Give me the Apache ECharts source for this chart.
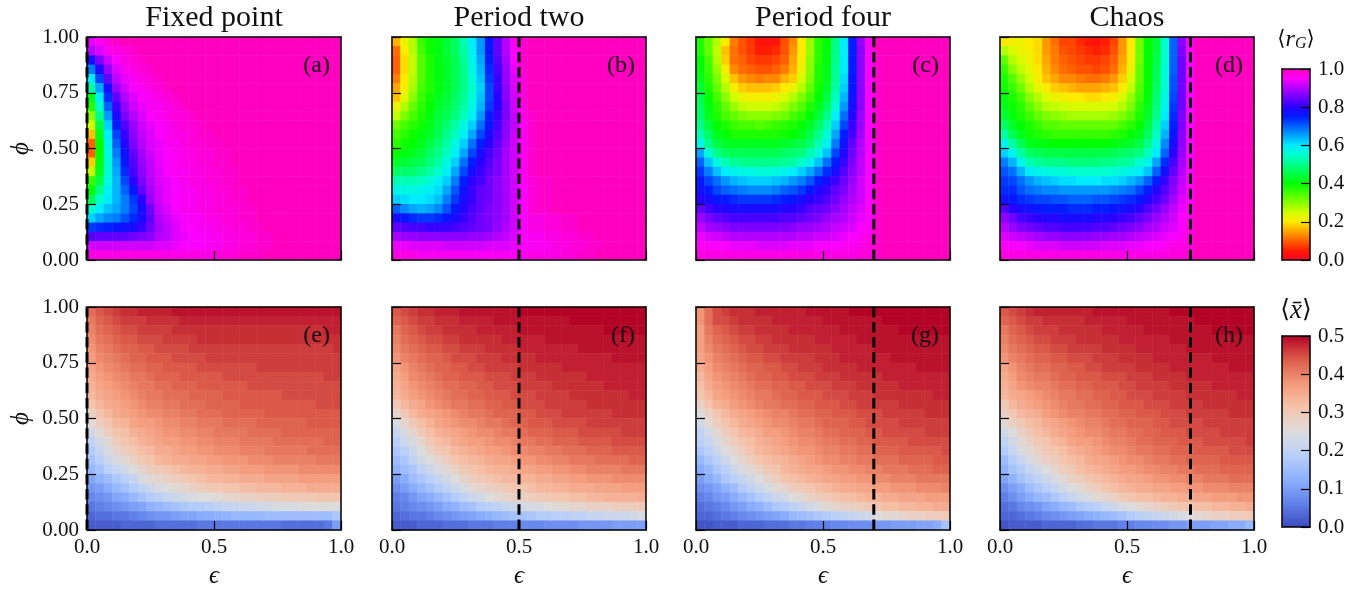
<!DOCTYPE html>
<html><head><meta charset="utf-8">
<style>html,body{margin:0;padding:0;background:#fff}#c{width:1362px;height:591px}</style>
<script src="https://cdn.jsdelivr.net/npm/echarts@6/dist/echarts.min.js"></script>
</head><body><div id="c"></div>
<script>
// All matrices: rows run from phi=1 (top) to phi=0 (bottom), columns from eps=0 to eps=1.
// Top row values are <r_G> x 100, bottom row values are <x> x 100.
const panelA=[
[94,96,98,99,100,100,100,100,100,100,100,100,100,100,100,100,100,100,100,100,100,100,100,100,100,100,100,100,100,100],
[90,93,96,97,98,99,100,100,100,100,100,100,100,100,100,100,100,100,100,100,100,100,100,100,100,100,100,100,100,100],
[78,86,92,95,97,98,99,100,100,100,100,100,100,100,100,100,100,100,100,100,100,100,100,100,100,100,100,100,100,100],
[68,79,88,93,96,97,98,99,100,100,100,100,100,100,100,100,100,100,100,100,100,100,100,100,100,100,100,100,100,100],
[60,72,84,91,94,96,97,98,99,100,100,100,100,100,100,100,100,100,100,100,100,100,100,100,100,100,100,100,100,100],
[52,65,78,88,92,95,96,97,98,99,100,100,100,100,100,100,100,100,100,100,100,100,100,100,100,100,100,100,100,100],
[42,60,74,84,90,93,95,96,97,98,99,100,100,100,100,100,100,100,100,100,100,100,100,100,100,100,100,100,100,100],
[37,55,70,81,88,92,94,96,96,97,98,99,100,100,100,100,100,100,100,100,100,100,100,100,100,100,100,100,100,100],
[30,50,66,78,86,90,93,95,96,97,98,98,99,100,100,100,100,100,100,100,100,100,100,100,100,100,100,100,100,100],
[25,45,62,75,83,88,92,94,95,96,97,98,98,99,100,100,100,100,100,100,100,100,100,100,100,100,100,100,100,100],
[17,42,60,72,81,87,91,93,95,96,97,97,98,99,99,100,100,100,100,100,100,100,100,100,100,100,100,100,100,100],
[10,40,58,70,79,86,90,93,94,96,96,97,98,98,99,99,100,100,100,100,100,100,100,100,100,100,100,100,100,100],
[10,40,57,68,77,84,89,92,94,95,96,97,97,98,98,99,99,100,100,100,100,100,100,100,100,100,100,100,100,100],
[18,41,56,66,76,83,88,91,94,95,96,97,97,98,98,99,99,100,100,100,100,100,100,100,100,100,100,100,100,100],
[26,42,56,65,74,82,87,91,93,95,96,96,97,97,98,98,99,99,100,100,100,100,100,100,100,100,100,100,100,100],
[36,45,57,64,72,80,86,90,93,94,95,96,97,97,98,98,99,99,100,100,100,100,100,100,100,100,100,100,100,100],
[40,50,59,64,70,76,84,89,92,94,95,96,96,97,97,98,98,99,99,100,100,100,100,100,100,100,100,100,100,100],
[46,55,60,64,68,73,80,88,92,94,95,96,96,97,97,98,98,99,99,100,100,100,100,100,100,100,100,100,100,100],
[55,60,63,65,68,72,78,85,91,93,95,96,96,97,97,98,98,98,99,99,100,100,100,100,100,100,100,100,100,100],
[62,65,67,68,71,74,78,84,90,92,94,95,96,96,97,97,98,98,99,99,100,100,100,100,100,100,100,100,100,100],
[73,74,75,76,77,78,81,85,89,91,93,95,95,96,96,97,97,98,98,99,99,100,100,100,100,100,100,100,100,100],
[83,84,84,84,84,85,86,87,90,91,93,94,95,95,96,96,97,97,98,98,99,99,100,100,100,100,100,100,100,100],
[92,92,92,92,92,92,92,92,93,93,94,95,95,95,96,96,97,97,98,98,99,99,100,100,100,100,100,100,100,100],
[97,97,97,97,97,97,97,97,97,97,97,97,97,97,97,98,98,98,99,99,99,100,100,100,100,100,100,100,100,100]];
const panelB=[
[16,22,27,36,39,41,44,47,53,60,66,76,84,90,96,99,100,100,100,100,100,100,100,100,100,100,100,100,100,100],
[11,20,27,35,39,41,44,47,52,59,66,76,84,90,95,99,100,100,100,100,100,100,100,100,100,100,100,100,100,100],
[10,19,26,34,38,41,43,46,51,58,65,75,83,89,95,99,100,100,100,100,100,100,100,100,100,100,100,100,100,100],
[10,19,26,34,38,41,43,46,50,57,64,74,82,88,94,99,100,100,100,100,100,100,100,100,100,100,100,100,100,100],
[12,20,27,34,38,41,43,46,50,56,63,73,81,88,93,98,100,100,100,100,100,100,100,100,100,100,100,100,100,100],
[15,21,28,35,38,41,43,46,50,55,62,72,81,87,93,98,100,100,100,100,100,100,100,100,100,100,100,100,100,100],
[17,23,30,36,39,42,44,47,51,56,63,72,80,87,92,98,100,100,100,100,100,100,100,100,100,100,100,100,100,100],
[22,27,33,37,40,43,45,48,52,57,64,73,80,86,92,97,100,100,100,100,100,100,100,100,100,100,100,100,100,100],
[26,31,35,38,41,44,46,49,54,59,66,75,81,86,91,97,99,100,100,100,100,100,100,100,100,100,100,100,100,100],
[32,35,37,39,42,45,48,52,57,62,69,76,82,87,91,96,99,100,100,100,100,100,100,100,100,100,100,100,100,100],
[35,37,39,41,43,46,50,54,59,65,72,78,83,87,92,96,99,100,100,100,100,100,100,100,100,100,100,100,100,100],
[37,39,40,42,45,48,52,57,62,69,75,80,84,88,92,96,99,100,100,100,100,100,100,100,100,100,100,100,100,100],
[40,41,42,44,47,50,54,59,65,72,78,82,85,89,92,96,99,100,100,100,100,100,100,100,100,100,100,100,100,100],
[43,44,45,46,49,52,57,62,69,75,80,83,86,89,92,96,99,100,100,100,100,100,100,100,100,100,100,100,100,100],
[47,48,48,50,52,55,59,65,72,78,81,84,86,89,92,96,99,100,100,100,100,100,100,100,100,100,100,100,100,100],
[53,53,53,54,56,59,62,68,75,80,82,85,87,89,92,96,98,99,99,100,100,100,100,100,100,100,100,100,100,100],
[58,57,57,58,59,61,65,71,77,81,84,85,87,89,92,95,98,99,99,100,100,100,100,100,100,100,100,100,100,100],
[62,61,60,60,61,63,68,73,78,81,84,85,87,89,92,95,98,99,99,100,100,100,100,100,100,100,100,100,100,100],
[70,67,65,64,65,67,71,76,79,82,84,86,87,89,92,95,98,99,99,100,100,100,100,100,100,100,100,100,100,100],
[78,76,74,73,73,74,76,78,81,83,85,86,87,89,92,95,97,97,98,98,99,99,100,100,100,100,100,100,100,100],
[84,83,82,82,81,81,81,82,83,84,85,86,88,90,92,95,97,97,98,98,99,99,100,100,100,100,100,100,100,100],
[89,88,88,87,87,87,87,87,87,88,88,89,90,91,93,95,96,96,97,97,98,98,99,99,100,100,100,100,100,100],
[94,94,93,93,93,93,92,92,92,92,92,93,93,93,94,95,96,96,96,97,97,98,98,99,99,100,100,100,100,100],
[97,97,97,96,96,96,96,96,96,96,96,96,96,96,96,96,97,97,97,97,98,98,99,99,100,100,100,100,100,100]];
const panelC=[
[38,33,27,20,12,9,7,4,3,4,9,13,20,29,37,40,50,60,75,88,96,100,100,100,100,100,100,100,100,100],
[38,33,26,17,11,9,7,5,5,6,9,14,20,29,37,41,50,60,75,87,96,100,100,100,100,100,100,100,100,100],
[40,35,27,18,11,10,8,7,7,8,10,15,21,30,37,41,50,60,75,87,95,99,100,100,100,100,100,100,100,100],
[41,36,29,21,13,11,10,9,9,10,12,16,22,30,38,42,51,60,75,87,95,99,100,100,100,100,100,100,100,100],
[42,37,31,24,17,14,13,12,13,13,16,18,24,31,38,42,51,61,76,87,95,99,100,100,100,100,100,100,100,100],
[44,38,33,27,21,18,17,17,17,18,20,22,27,33,39,43,52,62,76,87,95,99,100,100,100,100,100,100,100,100],
[46,40,35,30,25,22,21,21,21,22,24,27,31,35,40,45,54,64,77,87,95,99,100,100,100,100,100,100,100,100],
[47,41,37,33,29,26,25,25,25,26,28,31,34,38,42,47,56,66,78,87,95,99,100,100,100,100,100,100,100,100],
[48,42,38,35,33,31,30,30,30,31,32,35,37,40,44,50,59,69,79,88,95,99,100,100,100,100,100,100,100,100],
[50,44,40,38,36,35,35,34,35,36,37,38,40,43,47,53,62,72,81,88,95,99,100,100,100,100,100,100,100,100],
[53,47,42,40,38,38,38,38,38,38,39,40,42,45,50,56,65,75,82,89,95,99,100,100,100,100,100,100,100,100],
[58,50,45,43,42,42,42,42,42,42,43,44,45,48,53,59,68,77,84,90,95,99,100,100,100,100,100,100,100,100],
[65,56,50,47,46,46,46,46,46,46,47,48,49,53,57,63,72,79,85,90,95,99,100,100,100,100,100,100,100,100],
[70,63,57,53,51,50,50,50,50,50,51,52,55,58,63,69,75,81,86,91,95,99,100,100,100,100,100,100,100,100],
[73,68,63,60,58,57,57,56,56,57,58,60,62,65,69,74,78,83,87,91,95,99,100,100,100,100,100,100,100,100],
[76,72,69,66,64,63,62,62,62,63,64,66,68,71,75,78,81,85,88,92,95,99,100,100,100,100,100,100,100,100],
[77,75,72,70,69,68,67,67,67,68,70,71,73,76,79,81,84,86,89,92,95,99,100,100,100,100,100,100,100,100],
[80,78,76,75,74,73,73,73,73,74,75,76,78,80,81,83,85,88,90,92,95,99,100,100,100,100,100,100,100,100],
[84,82,80,79,78,78,78,78,78,78,79,80,81,83,84,85,87,89,91,93,96,99,100,100,100,100,100,100,100,100],
[88,86,84,83,82,82,82,82,82,82,83,83,84,85,86,88,89,90,92,94,96,99,100,100,100,100,100,100,100,100],
[91,89,88,87,86,86,86,86,86,86,86,87,88,88,89,90,91,92,93,95,96,99,100,100,100,100,100,100,100,100],
[94,93,92,91,90,90,90,90,90,90,90,90,91,91,92,92,93,94,95,96,97,99,100,100,100,100,100,100,100,100],
[96,96,95,95,94,94,94,93,93,93,93,94,94,94,95,95,95,96,96,97,98,99,100,100,100,100,100,100,100,100],
[97,97,97,97,97,97,97,97,97,97,97,97,97,97,97,97,97,97,97,98,98,99,100,100,100,100,100,100,100,100]];
const panelD=[
[20,21,22,20,19,14,11,8,8,6,4,3,5,8,14,20,32,40,44,55,70,87,96,100,100,100,100,100,100,100],
[27,24,22,21,19,14,12,9,8,7,6,5,6,9,14,20,32,40,44,55,70,86,96,100,100,100,100,100,100,100],
[33,27,24,22,19,15,12,10,9,8,7,7,8,10,15,21,32,40,45,55,70,85,95,100,100,100,100,100,100,100],
[36,30,26,23,20,16,13,11,10,9,9,8,9,11,16,22,33,40,46,56,70,85,95,100,100,100,100,100,100,100],
[38,34,29,25,21,17,15,13,13,12,11,11,12,14,18,24,33,40,46,56,71,85,95,100,100,100,100,100,100,100],
[39,36,32,27,23,20,18,17,16,15,15,15,16,17,20,26,34,40,47,56,71,85,95,100,100,100,100,100,100,100],
[41,38,35,30,27,24,22,21,20,20,19,19,20,21,24,29,35,41,48,57,72,85,95,100,100,100,100,100,100,100],
[42,39,37,33,30,27,26,25,24,24,24,24,24,25,27,31,37,42,49,58,73,85,95,100,100,100,100,100,100,100],
[44,41,38,36,33,31,30,29,28,28,28,28,28,29,31,34,38,43,50,60,74,86,95,100,100,100,100,100,100,100],
[47,43,40,38,36,34,34,33,33,33,33,33,33,33,35,37,40,45,52,62,75,86,95,100,100,100,100,100,100,100],
[52,46,42,39,38,37,36,36,36,36,36,36,36,37,38,40,42,47,54,64,76,87,95,100,100,100,100,100,100,100],
[58,52,46,42,41,41,40,40,40,40,40,40,40,41,42,43,45,50,57,67,78,87,95,100,100,100,100,100,100,100],
[62,58,52,47,46,45,45,45,45,45,45,45,45,46,47,48,49,54,60,70,80,88,95,100,100,100,100,100,100,100],
[68,64,58,53,51,50,50,50,49,49,49,49,50,50,51,52,55,58,65,74,82,89,95,100,100,100,100,100,100,100],
[71,69,64,60,58,57,56,56,55,55,55,55,55,56,57,58,60,63,70,78,84,90,96,100,100,100,100,100,100,100],
[73,72,69,66,64,63,62,61,61,60,60,60,61,61,62,64,66,70,75,81,86,91,96,100,100,100,100,100,100,100],
[74,74,71,69,68,67,67,66,66,66,66,66,66,67,68,69,72,75,79,83,87,92,96,100,100,100,100,100,100,100],
[77,76,74,73,72,72,71,71,70,70,70,71,71,72,73,74,76,79,82,85,89,93,96,100,100,100,100,100,100,100],
[83,80,78,77,76,75,75,75,74,74,74,75,75,76,77,78,80,83,85,88,91,94,97,100,100,100,100,100,100,100],
[87,85,82,81,80,79,79,78,78,78,78,79,79,80,81,82,84,86,88,90,92,95,97,100,100,100,100,100,100,100],
[90,88,86,85,84,83,83,82,82,82,82,83,83,84,85,86,87,89,90,92,93,95,98,100,100,100,100,100,100,100],
[93,92,91,90,89,88,88,87,87,87,87,88,88,89,89,90,91,92,93,94,95,96,98,100,100,100,100,100,100,100],
[96,95,95,94,93,93,93,92,92,92,92,92,93,93,93,94,94,95,95,96,97,97,98,100,100,100,100,100,100,100],
[97,97,97,97,97,97,97,97,97,97,97,97,97,97,97,97,97,97,97,97,98,98,99,100,100,100,100,100,100,100]];
const panelE=[
[42,44,45,46,47,47,48,48,48,48,49,49,49,49,49,49,49,49,49,49,49,49,49,49,49,49,49,49,49,49],
[41,43,44,45,46,46,46,47,47,47,47,48,48,48,48,48,48,48,48,48,48,48,48,48,48,48,48,48,48,48],
[40,42,43,44,45,45,46,46,46,46,47,47,47,47,47,47,47,47,47,47,47,47,47,47,47,47,47,47,48,48],
[39,41,42,43,44,44,45,45,45,46,46,46,46,47,47,47,47,47,47,47,47,47,47,47,47,47,47,47,47,47],
[38,40,41,42,43,43,44,44,45,45,45,45,46,46,46,46,46,46,46,46,46,46,46,46,46,46,46,46,46,47],
[37,39,40,41,42,43,43,44,44,44,45,45,45,45,46,46,46,46,46,46,46,46,46,46,46,46,46,46,46,46],
[36,38,39,40,41,42,42,43,43,44,44,44,44,45,45,45,45,45,45,45,46,46,46,46,46,46,46,46,46,46],
[35,37,38,39,40,41,41,42,43,43,43,44,44,44,44,44,45,45,45,45,45,45,45,45,45,45,45,45,46,46],
[34,36,37,38,39,40,41,41,42,42,43,43,43,44,44,44,44,44,44,45,45,45,45,45,45,45,45,45,45,45],
[33,35,36,37,38,39,40,41,41,42,42,42,43,43,43,43,44,44,44,44,44,44,44,45,45,45,45,45,45,45],
[31,33,35,36,37,38,39,40,40,41,41,42,42,42,43,43,43,43,44,44,44,44,44,44,44,44,44,45,45,45],
[28,31,33,35,36,37,38,39,39,40,40,41,41,42,42,42,43,43,43,43,43,44,44,44,44,44,44,44,44,44],
[26,29,31,33,34,36,37,37,38,39,39,40,40,41,41,41,42,42,42,42,43,43,43,43,43,43,44,44,44,44],
[23,26,29,31,32,34,35,36,37,38,38,39,39,40,40,41,41,41,41,42,42,42,42,43,43,43,43,43,43,43],
[20,23,26,29,31,32,34,35,36,37,37,38,38,39,39,40,40,40,41,41,41,41,42,42,42,42,42,42,43,43],
[18,21,24,27,29,30,32,33,35,35,36,37,37,38,38,39,39,39,40,40,40,41,41,41,41,41,42,42,42,42],
[16,19,22,24,26,28,30,31,33,34,35,35,36,36,37,37,38,38,38,39,39,39,40,40,40,40,40,41,41,41],
[14,16,19,21,23,25,27,29,30,31,32,33,34,34,35,35,36,36,37,37,37,38,38,38,38,39,39,39,39,39],
[11,13,15,17,19,21,24,26,27,28,29,30,31,32,33,33,34,34,35,35,35,36,36,36,36,37,37,37,37,37],
[9,10,12,14,16,18,20,22,24,25,26,27,28,29,30,30,31,31,32,32,33,33,33,34,34,34,35,35,35,35],
[7,8,9,11,12,14,16,18,19,21,22,23,24,25,25,26,27,27,28,28,29,29,29,30,30,30,30,31,31,31],
[5,6,7,8,9,10,11,13,14,15,16,17,18,18,19,20,21,21,22,22,23,23,24,24,24,25,25,25,25,25],
[3,4,4,5,5,6,7,8,9,9,10,11,11,12,12,13,13,14,14,14,14,15,15,15,15,15,15,15,15,17],
[2,2,2,2,3,3,3,3,4,4,4,4,4,5,5,5,5,5,5,5,5,5,5,4,4,4,4,4,5,10]];
const panelF=[
[44,45,46,47,47,48,48,48,49,49,49,49,49,49,49,50,50,50,50,50,50,50,50,50,50,50,50,50,50,50],
[43,44,45,46,46,47,47,47,48,48,48,48,49,49,49,49,49,49,49,49,49,50,50,50,50,50,50,50,50,50],
[41,43,44,45,46,46,47,47,47,47,48,48,48,48,48,49,49,49,49,49,49,49,49,49,49,50,50,50,50,50],
[40,42,43,44,45,45,46,46,47,47,47,47,47,48,48,48,48,48,49,49,49,49,49,49,49,49,49,49,49,49],
[39,41,42,43,44,44,45,45,46,46,46,47,47,47,47,48,48,48,48,48,48,48,49,49,49,49,49,49,49,49],
[38,40,41,42,43,43,44,45,45,45,46,46,46,47,47,47,47,48,48,48,48,48,48,48,48,48,49,49,49,49],
[36,38,40,41,42,43,43,44,44,45,45,46,46,46,46,47,47,47,47,47,48,48,48,48,48,48,48,48,48,48],
[35,37,39,40,41,42,43,43,44,44,44,45,45,45,46,46,46,47,47,47,47,47,47,48,48,48,48,48,48,48],
[34,36,38,39,40,41,42,42,43,43,44,44,45,45,45,46,46,46,46,47,47,47,47,47,47,48,48,48,48,48],
[33,35,37,38,39,40,41,42,42,43,43,44,44,44,45,45,45,46,46,46,46,47,47,47,47,47,47,47,48,48],
[30,33,35,36,38,39,40,41,41,42,42,43,43,44,44,45,45,45,46,46,46,46,46,47,47,47,47,47,47,47],
[27,30,33,35,36,37,38,39,40,41,41,42,43,43,43,44,44,45,45,45,46,46,46,46,46,46,47,47,47,47],
[24,27,30,32,34,36,37,38,39,39,40,41,41,42,43,43,44,44,44,45,45,45,45,46,46,46,46,46,46,46],
[21,24,27,30,32,34,35,36,37,38,39,39,40,41,41,42,43,43,43,44,44,44,45,45,45,45,45,46,46,46],
[19,22,24,27,30,32,33,35,36,37,37,38,39,39,40,41,41,42,42,43,43,43,44,44,44,44,45,45,45,45],
[17,19,22,25,28,30,31,33,34,35,36,37,37,38,39,39,40,40,41,41,42,42,42,43,43,43,44,44,44,44],
[15,17,20,23,25,27,29,31,32,33,34,35,36,36,37,38,38,39,39,40,40,41,41,41,42,42,42,42,43,43],
[13,15,17,20,22,24,26,28,30,31,32,33,34,34,35,36,36,37,37,38,38,39,39,40,40,40,40,41,41,41],
[10,12,15,17,19,21,23,25,27,29,30,31,32,33,33,34,34,35,35,36,36,37,37,38,38,38,39,39,39,39],
[8,10,12,14,16,18,20,22,24,26,27,28,29,30,31,31,32,33,33,34,34,35,35,35,36,36,36,37,37,37],
[6,7,9,11,12,14,16,18,20,22,23,25,26,27,28,28,29,30,30,31,31,32,32,33,33,34,34,34,34,35],
[5,6,7,8,9,10,12,13,15,16,18,19,20,21,22,23,24,24,25,26,26,27,27,28,28,28,29,29,29,30],
[3,4,5,5,6,7,8,9,10,11,12,13,14,15,16,16,17,18,18,19,19,20,20,21,21,22,22,22,23,24],
[2,2,2,3,3,3,4,4,4,5,5,5,6,6,6,7,7,7,8,8,8,8,9,9,9,9,10,10,10,10]];
const panelG=[
[38,42,45,46,47,47,47,48,48,48,48,48,48,49,49,49,49,49,50,50,50,50,50,50,50,50,50,50,50,50],
[38,42,45,45,46,47,47,47,47,48,48,48,48,48,48,49,49,49,49,49,49,49,50,50,50,50,50,50,50,50],
[37,41,43,44,45,46,46,47,47,47,47,48,48,48,48,48,48,49,49,49,49,49,49,49,50,50,50,50,50,50],
[37,40,42,43,44,45,45,46,46,47,47,47,47,47,48,48,48,48,48,49,49,49,49,49,49,49,49,49,49,49],
[37,39,41,42,43,44,45,45,46,46,46,47,47,47,47,47,48,48,48,48,48,49,49,49,49,49,49,49,49,49],
[36,38,40,41,42,43,44,44,45,45,46,46,46,46,47,47,47,48,48,48,48,48,48,49,49,49,49,49,49,49],
[35,37,39,40,41,42,43,43,44,44,45,45,46,46,46,47,47,47,47,48,48,48,48,48,48,48,49,49,49,49],
[33,36,38,39,40,41,42,43,43,44,44,45,45,45,46,46,46,47,47,47,47,47,48,48,48,48,48,48,48,48],
[32,35,37,38,39,40,41,42,42,43,43,44,44,45,45,45,46,46,46,47,47,47,47,47,48,48,48,48,48,48],
[31,33,36,37,38,39,40,41,41,42,43,43,44,44,44,45,45,45,46,46,46,47,47,47,47,47,47,47,48,48],
[28,31,34,35,37,38,39,40,41,41,42,42,43,43,44,44,44,45,45,46,46,46,46,46,47,47,47,47,47,47],
[25,28,31,33,35,36,37,38,39,40,40,41,42,42,43,43,44,44,44,45,45,45,46,46,46,46,46,47,47,47],
[23,26,29,31,33,35,36,37,38,39,39,40,41,41,42,43,43,43,44,44,45,45,45,45,46,46,46,46,46,46],
[20,23,26,29,31,33,34,35,37,37,38,39,40,40,41,42,42,43,43,43,44,44,45,45,45,45,45,46,46,46],
[19,21,24,27,29,31,32,34,35,36,37,38,39,39,40,41,41,42,42,43,43,44,44,44,44,45,45,45,45,45],
[17,19,22,25,27,29,31,33,34,35,36,37,38,38,39,40,40,41,41,42,42,43,43,43,44,44,44,44,44,45],
[14,17,19,22,25,27,29,31,32,33,34,35,36,37,38,39,39,40,40,41,41,42,42,42,43,43,43,43,44,44],
[12,14,17,19,22,24,26,28,30,31,33,34,35,36,36,37,38,38,39,39,40,40,41,41,41,42,42,42,43,43],
[10,12,14,17,19,21,23,25,27,29,31,32,33,34,35,36,36,37,37,38,38,39,39,40,40,40,41,41,41,41],
[8,9,11,13,15,18,20,22,24,26,27,29,30,31,32,33,34,35,35,36,36,37,37,38,38,38,39,39,39,40],
[6,7,9,10,12,14,16,18,20,22,23,25,26,28,29,30,31,32,32,33,34,34,35,35,36,36,36,37,37,37],
[4,5,6,7,9,10,12,13,15,17,18,20,21,23,24,26,27,28,28,29,30,31,32,32,33,33,34,34,35,35],
[3,3,4,5,6,7,8,9,10,11,12,14,15,16,17,18,19,20,21,22,23,25,26,26,27,28,28,29,29,30],
[1,1,2,2,2,3,3,3,4,4,4,5,5,6,6,6,7,7,8,8,8,9,9,10,10,10,11,11,12,16]];
const panelH=[
[44,45,46,47,48,48,48,48,48,48,48,49,49,49,49,49,49,49,49,49,50,50,50,50,50,50,50,50,50,50],
[43,44,45,46,46,47,47,47,47,47,48,48,48,48,48,49,49,49,49,49,49,49,49,50,50,50,50,50,50,50],
[41,43,44,45,46,46,46,47,47,47,47,47,48,48,48,48,48,49,49,49,49,49,49,49,49,50,50,50,50,50],
[40,42,43,44,45,45,46,46,46,47,47,47,47,47,48,48,48,48,48,48,49,49,49,49,49,49,49,49,49,49],
[39,41,42,43,44,44,45,45,46,46,46,46,47,47,47,47,48,48,48,48,48,48,49,49,49,49,49,49,49,49],
[38,40,41,42,43,43,44,44,45,45,45,46,46,46,47,47,47,47,48,48,48,48,48,48,48,49,49,49,49,49],
[36,38,40,41,42,42,43,43,44,44,45,45,46,46,46,46,47,47,47,47,48,48,48,48,48,48,48,49,49,49],
[35,37,39,40,41,41,42,43,43,44,44,44,45,45,45,46,46,46,47,47,47,47,48,48,48,48,48,48,48,48],
[34,36,38,39,40,40,41,42,42,43,43,44,44,44,45,45,46,46,46,46,47,47,47,47,47,48,48,48,48,48],
[33,35,36,37,38,39,40,41,41,42,42,43,43,44,44,45,45,45,46,46,46,46,47,47,47,47,47,47,48,48],
[30,33,35,36,37,38,39,40,41,41,42,42,43,43,44,44,44,45,45,45,46,46,46,46,47,47,47,47,47,47],
[28,30,33,34,35,37,38,39,40,40,41,41,42,42,43,43,44,44,44,45,45,45,46,46,46,46,46,47,47,47],
[26,28,30,32,33,35,36,37,38,39,40,40,41,42,42,43,43,43,44,44,45,45,45,45,46,46,46,46,46,46],
[23,25,28,30,32,33,35,36,37,38,39,39,40,41,41,42,42,43,43,44,44,44,45,45,45,45,46,46,46,46],
[20,23,26,28,30,31,33,34,36,37,37,38,39,40,40,41,42,42,43,43,43,44,44,44,45,45,45,45,45,46],
[18,21,24,26,28,30,31,32,34,35,36,37,38,39,39,40,41,41,42,42,43,43,43,44,44,44,44,45,45,45],
[15,18,21,24,26,28,29,31,32,33,35,36,36,37,38,39,39,40,41,41,42,42,43,43,43,43,44,44,44,44],
[13,16,18,21,23,25,27,29,30,32,33,34,35,36,37,37,38,39,39,40,40,41,41,42,42,42,43,43,43,43],
[11,13,16,18,20,22,24,26,28,29,31,32,33,34,35,36,36,37,38,38,39,39,40,40,41,41,41,42,42,42],
[8,10,12,15,17,19,21,23,25,26,28,29,31,32,33,34,35,35,36,36,37,37,38,38,39,39,39,40,40,40],
[6,8,10,12,14,15,17,19,21,23,24,26,27,28,30,31,32,32,33,34,34,35,35,36,36,37,37,37,38,38],
[4,5,7,8,9,11,12,14,15,17,18,19,21,22,24,25,26,27,28,29,30,31,31,32,32,33,33,34,34,35],
[3,3,4,5,6,7,8,9,10,11,12,13,14,15,16,18,19,20,21,22,23,24,25,26,27,28,28,29,29,30],
[1,2,2,2,2,3,3,3,3,4,4,5,5,5,6,6,7,7,8,8,9,9,10,10,10,11,11,12,12,14]];

const matrices=[panelA,panelB,panelC,panelD,panelE,panelF,panelG,panelH];
const panelLetters=['(a)','(b)','(c)','(d)','(e)','(f)','(g)','(h)'];
const columnTitles=['Fixed point','Period two','Period four','Chaos'];
const criticalEps=[0,0.5,0.7,0.75,0,0.5,0.7,0.75];

const SERIF='"Liberation Serif","DejaVu Serif",serif';
const rainbowStops=['#ff0029','#ff1c00','#ff6000','#ffa500','#ffea00','#cfff00','#8aff00','#45ff00','#00ff00','#00ff45','#00ff89','#00ffcd','#00ecff','#00a6ff','#0061ff','#001cff','#2a00ff','#6f00ff','#b400ff','#f900ff','#ff00bf'];
const coolwarmStops=['#3b4cc0','#6282ea','#8db0fe','#b9d0f9','#dddcdc','#f5c4ac','#f49a7b','#dc5d4a','#b40426'];

const lefts=[87,392,696,1000], tops=[37,307], W=254, H=223;
const grids=[],xAxes=[],yAxes=[],series=[],titles=[];
const line={show:true,onZero:false,lineStyle:{color:'#000',width:1.5}};
const tick={show:true,inside:true,length:9,lineStyle:{color:'#000',width:1.2}};
const lab={color:'#111',fontFamily:SERIF,fontSize:21};
const axisNameStyle={fontFamily:SERIF,fontStyle:'italic',fontSize:25,color:'#111'};

matrices.forEach((m,p)=>{
  const col=p%4,row=p<4?0:1,rows=m.length;
  grids.push({left:lefts[col],top:tops[row],width:W,height:H,containLabel:false,outerBoundsMode:'none'});
  // category axes place the cells and draw the top/right spines; value axes carry the ticks
  xAxes.push({gridIndex:p,type:'category',position:'top',data:m[0].map((_,i)=>i),z:5,axisLine:line,axisTick:{show:false},axisLabel:{show:false},splitLine:{show:false}});
  xAxes.push({gridIndex:p,type:'value',position:'bottom',min:0,max:1,interval:0.5,z:5,axisLine:line,axisTick:tick,splitLine:{show:false},
    axisLabel:row===1?{...lab,margin:7,formatter:v=>v.toFixed(1)}:{show:false},
    name:row===1?'ϵ':'',nameLocation:'middle',nameGap:34,nameTextStyle:axisNameStyle});
  yAxes.push({gridIndex:p,type:'category',position:'right',data:m.map((_,j)=>j),z:5,axisLine:line,axisTick:{show:false},axisLabel:{show:false},splitLine:{show:false}});
  yAxes.push({gridIndex:p,type:'value',position:'left',min:0,max:1,interval:0.25,z:5,axisLine:line,axisTick:tick,splitLine:{show:false},
    axisLabel:col===0?{...lab,margin:8,formatter:v=>v.toFixed(2)}:{show:false},
    name:col===0?'ϕ':'',nameLocation:'middle',nameGap:53,nameTextStyle:axisNameStyle});
  const cells=[];
  m.forEach((r,j)=>r.forEach((v,i)=>cells.push([i,rows-1-j,v/100])));
  series.push({type:'heatmap',xAxisIndex:2*p,yAxisIndex:2*p,data:cells,progressive:0,emphasis:{disabled:true},itemStyle:{borderWidth:0},silent:true});
  series.push({type:'line',xAxisIndex:2*p+1,yAxisIndex:2*p+1,data:[[criticalEps[p],0],[criticalEps[p],1]],symbol:'none',silent:true,z:6,clip:false,
    lineStyle:{color:'#000',width:3,type:[10.5,4.7]}});
  titles.push({text:panelLetters[p],left:lefts[col]+W-11,top:tops[row]+17,padding:0,textAlign:'right',textStyle:{fontFamily:SERIF,fontWeight:'normal',fontSize:24,color:'#111'}});
  if(row===0) titles.push({text:columnTitles[col],left:lefts[col]+W/2,top:3,padding:0,textAlign:'center',textStyle:{fontFamily:SERIF,fontWeight:'normal',fontSize:30,color:'#111'}});
});

// colour bars: visualMap paints the ramp, an empty grid on top gives frame, ticks and labels
const bars=[{top:69,h:191,max:1,interval:0.2,dec:1},{top:336,h:191,max:0.5,interval:0.1,dec:1}];
bars.forEach((b,k)=>{
  const g=8+k;
  grids.push({left:1282,top:b.top,width:28,height:b.h,outerBoundsMode:'none'});
  const plain={gridIndex:g,type:'value',min:0,max:1,z:6,axisLine:line,axisTick:{show:false},axisLabel:{show:false},splitLine:{show:false}};
  xAxes.push({...plain,position:'bottom'},{...plain,position:'top'});
  yAxes.push({...plain,position:'left'},{gridIndex:g,type:'value',position:'right',min:0,max:b.max,interval:b.interval,z:6,axisLine:line,
    axisTick:{show:true,inside:true,length:9,lineStyle:{color:'#000',width:1.2}},splitLine:{show:false},
    axisLabel:{...lab,margin:8,formatter:v=>v.toFixed(b.dec)}});
});
const plainFace={fontWeight:'normal',color:'#111'};
titles.push({text:'{n|⟨}{i|r}{s|G}{n|⟩}',left:1296,top:28,padding:0,textAlign:'center',textStyle:{fontWeight:'normal',rich:{n:{...plainFace,fontFamily:'"DejaVu Serif"',fontSize:21},i:{...plainFace,fontFamily:SERIF,fontStyle:'italic',fontSize:24},s:{...plainFace,fontFamily:SERIF,fontStyle:'italic',fontSize:16,verticalAlign:'bottom',padding:[7,0,0,0]}}}});
titles.push({text:'{n|⟨}{i|x̄}{n|⟩}',left:1296,top:297,padding:0,textAlign:'center',textStyle:{fontWeight:'normal',rich:{n:{...plainFace,fontFamily:'"DejaVu Serif"',fontSize:25},i:{...plainFace,fontFamily:SERIF,fontStyle:'italic',fontSize:27}}}});

const vm=(idx,max,stops,b)=>({type:'continuous',seriesIndex:idx,dimension:2,min:0,max:max,calculable:false,hoverLink:false,realtime:false,
  left:1282,top:b.top,itemWidth:28,itemHeight:b.h,padding:0,text:null,showLabel:false,inRange:{color:stops},z:3});

const chart=echarts.init(document.getElementById('c'),null,{renderer:'canvas'});
chart.setOption({animation:false,backgroundColor:'#fff',title:titles,grid:grids,xAxis:xAxes,yAxis:yAxes,series:series,
  visualMap:[vm([0,2,4,6],1,rainbowStops,bars[0]),vm([8,10,12,14],0.5,coolwarmStops,bars[1])]});
</script></body></html>
